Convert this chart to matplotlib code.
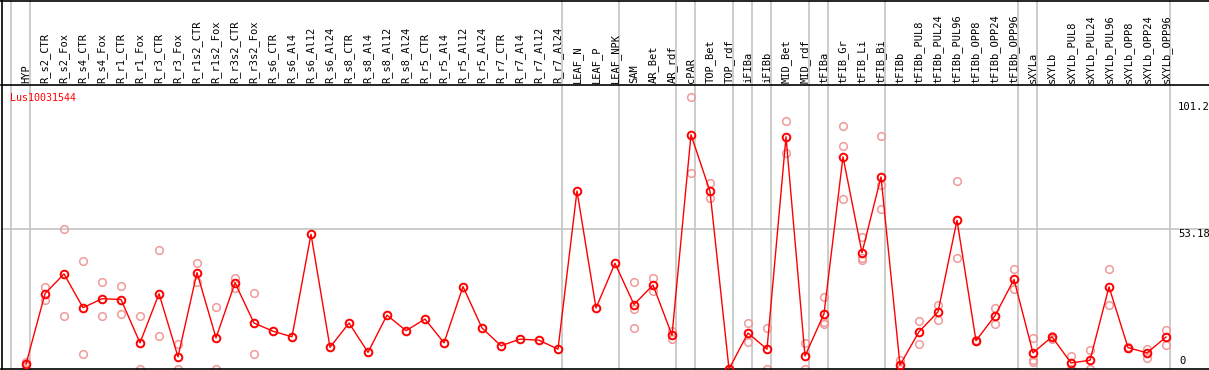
import matplotlib
matplotlib.use("Agg")
import matplotlib.pyplot as plt
from matplotlib.lines import Line2D

categories = ["HYP", "R_s2_CTR", "R_s2_Fox", "R_s4_CTR", "R_s4_Fox", "R_r1_CTR", "R_r1_Fox",
              "R_r3_CTR", "R_r3_Fox", "R_r1s2_CTR", "R_r1s2_Fox", "R_r3s2_CTR", "R_r3s2_Fox",
              "R_s6_CTR", "R_s6_Al4", "R_s6_Al12", "R_s6_Al24", "R_s8_CTR", "R_s8_Al4", "R_s8_Al12",
              "R_s8_Al24", "R_r5_CTR", "R_r5_Al4", "R_r5_Al12", "R_r5_Al24", "R_r7_CTR", "R_r7_Al4",
              "R_r7_Al12", "R_r7_Al24", "LEAF_N", "LEAF_P", "LEAF_NPK", "SAM", "AR_Bet", "AR_rdf",
              "cPAR", "TOP_Bet", "TOP_rdf", "iFIBa", "iFIBb", "MID_Bet", "MID_rdf", "tFIBa",
              "tFIB_Gr", "tFIB_Li", "tFIB_Bi", "tFIBb", "tFIBb_PUL8", "tFIBb_PUL24", "tFIBb_PUL96",
              "tFIBb_OPP8", "tFIBb_OPP24", "tFIBb_OPP96", "sXYLa", "sXYLb", "sXYLb_PUL8",
              "sXYLb_PUL24", "sXYLb_PUL96", "sXYLb_OPP8", "sXYLb_OPP24", "sXYLb_OPP96"]

means = [1.8, 28.5, 36.0, 23.2, 26.6, 26.3, 9.9, 28.5, 4.6, 36.5,
         11.8, 32.6, 17.4, 14.3, 12.2, 51.0, 8.2, 17.4, 6.3, 20.4,
         14.5, 18.9, 9.9, 31.2, 15.5, 8.8, 11.3, 10.9, 7.5, 67.4,
         23.1, 40.0, 24.4, 31.8, 12.8, 88.7, 67.2, 0.0, 13.6, 7.5,
         87.9, 4.9, 20.9, 80.3, 44.0, 72.7, 1.5, 14.1, 21.6, 56.3,
         10.7, 20.2, 33.9, 6.1, 12.2, 2.3, 3.3, 31.1, 8.1, 6.1, 12.1]

replicates = [
    [2.5, 1.0], [30.9, 26.3], [52.9, 19.9], [40.7, 5.7], [33.0, 19.9], [31.5, 20.8],
    [20.2, 0.0], [44.9, 12.6], [9.5, 0.1], [40.0, 33.0], [23.6, 0.0], [34.4, 30.7],
    [28.8, 5.7], [], [], [], [], [], [], [], [], [], [], [], [], [], [], [], [],
    [], [], [], [33.0, 15.5, 22.8], [34.6, 29.4], [14.2, 11.3], [103.0, 74.1],
    [70.4, 64.6], [0.0], [17.5, 10.2], [15.5, 0.0], [93.9, 81.8], [10.0, 0.0],
    [27.1, 17.8, 17.0], [92.1, 84.5, 64.2], [49.8, 42.1, 41.2], [88.3, 69.6, 60.4],
    [3.4, 0.0], [18.1, 9.5], [24.4, 18.5], [71.0, 42.0], [10.9, 10.5], [23.2, 17.1],
    [37.7, 30.1], [11.7, 3.4, 2.5], [12.6, 11.2], [4.9, 0.0], [7.1, 0.0],
    [37.7, 24.2], [8.4, 7.8], [7.7, 4.3], [14.8, 9.0]]

# indices after which a grey separator is drawn
separators_after = [-1, 0, 28, 31, 34, 35, 37, 38, 39, 41, 42, 45, 52, 53, 60]
gene = "Lus10031544"
tick_vals = [101.2, 53.18]

W, H = 1209, 370
fig = plt.figure(figsize=(W / 100, H / 100), dpi=100)

left_px, right_px, top_px, bot_px = 1, 1209, 85, 369
ax = fig.add_axes([left_px / W, (H - bot_px) / H, (right_px - left_px) / W, (bot_px - top_px) / H])
x0_px, dx_px = 26, 19
ax.set_xlim((left_px - x0_px) / dx_px, (right_px - x0_px) / dx_px)
ymax = 107.5
ax.set_ylim(0, ymax)
ax.set_xticks([])
ax.set_yticks([])
for s in ["right", "left"]:
    ax.spines[s].set_visible(False)
for s in ["bottom", "top"]:
    ax.spines[s].set_color("black")
    ax.spines[s].set_linewidth(1.2)

grey = "#c4c4c4"
ax.axhline(53.18, color=grey, lw=1.2, zorder=1)
for i in separators_after:
    ax.axvline(i + 0.21, ymin=0, ymax=(bot_px) / (bot_px - top_px), color=grey, lw=1.2,
               clip_on=False, zorder=1)

xs = list(range(len(categories)))
# replicates
rx, ry = [], []
for i, reps in enumerate(replicates):
    for v in reps:
        rx.append(i)
        ry.append(v)
ax.plot(rx, ry, linestyle="none", marker="o", markersize=5.5, markerfacecolor="none",
        markeredgecolor="#f09a9a", markeredgewidth=1.1, zorder=2)
ax.plot(xs, means, color="#ff0000", lw=1.0, marker="o", markersize=5.5,
        markerfacecolor="none", markeredgecolor="#ff0000", markeredgewidth=1.4, zorder=3)

# column labels
for i, c in enumerate(categories):
    ax.text(i, 1.0 + 2 / (bot_px - top_px), c, transform=ax.get_xaxis_transform(),
            rotation=90, ha="center", va="bottom", fontsize=7.5, family="DejaVu Sans Mono",
            color="black", clip_on=False)

# value labels at right
for v in tick_vals:
    ax.text((1178 - x0_px) / dx_px, v, f"{v:g}", ha="left", va="top", fontsize=7.6,
            family="DejaVu Sans Mono", color="black", clip_on=False)
ax.annotate("0", xy=((1179 - x0_px) / dx_px, 0), xytext=(0, 2), textcoords="offset points",
            ha="left", va="bottom", fontsize=7.6, family="DejaVu Sans Mono", color="black")

# gene name
fig.text(10 / W, (H - 93) / H, gene, ha="left", va="top", fontsize=7.2,
         family="DejaVu Sans Mono", color="red")

# outer frame lines: top and left
fig.add_artist(Line2D([0, 1], [1 - 0.5 / H, 1 - 0.5 / H], color="black", lw=1.2,
                      transform=fig.transFigure))
fig.add_artist(Line2D([1.5 / W, 1.5 / W], [0, 1], color="black", lw=1.2,
                      transform=fig.transFigure))

fig.savefig("out.png", dpi=100, facecolor="white")
